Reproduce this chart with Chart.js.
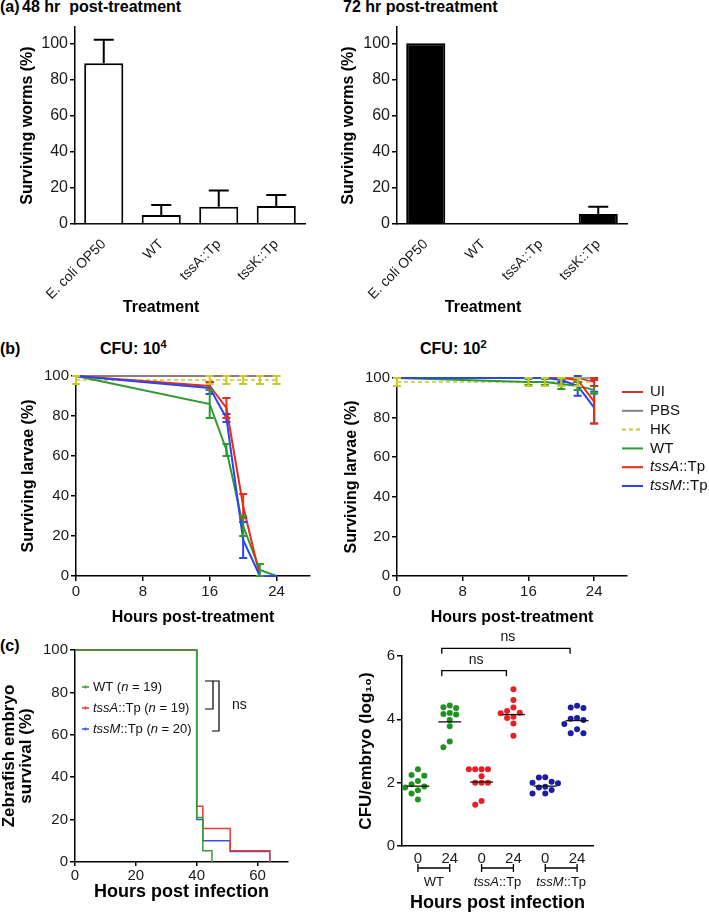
<!DOCTYPE html>
<html>
<head>
<meta charset="utf-8">
<title>T6SS virulence figure</title>
<script src="https://cdn.jsdelivr.net/npm/chart.js@4.4.1/dist/chart.umd.min.js"></script>
<style>
  html, body { margin: 0; padding: 0; background: #fff; }
  body { position: relative; width: 709px; height: 914px; overflow: hidden;
         font-family: "Liberation Sans", Arial, Helvetica, sans-serif; color: #000; }
  canvas { position: absolute; }
  .lbl { position: absolute; font-size: 16px; line-height: 16px; font-weight: bold; white-space: nowrap; }
  .lbl sup { font-size: 11px; line-height: 0; }
</style>
</head>
<body>
<div class="lbl" style="left:0;top:-1px">(a)</div>
<div class="lbl" style="left:22px;top:-1px">48 hr&nbsp; post-treatment</div>
<div class="lbl" style="left:343px;top:-1px">72 hr post-treatment</div>
<div class="lbl" style="left:0;top:341px">(b)</div>
<div class="lbl" style="left:100px;top:341px">CFU: 10<sup>4</sup></div>
<div class="lbl" style="left:420px;top:341px">CFU: 10<sup>2</sup></div>
<div class="lbl" style="left:0;top:638px">(c)</div>

<canvas id="a48" width="345" height="320" style="left:0;top:0"></canvas>
<canvas id="a72" width="379" height="320" style="left:330px;top:0"></canvas>
<canvas id="b4" width="345" height="305" style="left:0;top:330px"></canvas>
<canvas id="b2" width="379" height="305" style="left:330px;top:330px"></canvas>
<canvas id="c1" width="345" height="289" style="left:0;top:625px"></canvas>
<canvas id="c2" width="364" height="314" style="left:345px;top:600px"></canvas>

<script>
// ---- (a) worm killing ----
const wormStrains = ['E. coli OP50', 'WT', 'tssA::Tp', 'tssK::Tp'];
const worms48 = [89, 5, 9.5, 10];
const worms48Err = [13, 5.5, 9, 6];
const worms72 = [100, 0, 0, 5.5];
const worms72Err = [0, 0, 0, 4];
const wormTicks = [0, 20, 40, 60, 80, 100];

// ---- (b) larvae survival ----
const larvaeHours = [0, 16, 18, 20, 22, 24];
const larvaeHourTicks = [0, 8, 16, 24];
const larvaeTicks = [0, 20, 40, 60, 80, 100];
const larvaeSeries = ['UI', 'PBS', 'HK', 'WT', 'tssA::Tp', 'tssM::Tp'];

const cfu4UI = [100, 100, 100, 100, 100, 100];
const cfu4PBS = [100, 100, 100, 100, 100, 100];
const cfu4HK = [98, 98, 98, 98, 98, 98];
const cfu4HKErr = [2, 2, 2, 2, 2, 2];
const cfu4WT = [100, 86, 63, 25, 3, 0];
const cfu4WTErr = [0, 7, 3, 5, 3, 0];
const cfu4TssA = [100, 95, 84, 35, 0, 0];
const cfu4TssAErr = [0, 2, 5, 6, 0, 0];
const cfu4TssM = [100, 94, 79, 18, 0, 0];
const cfu4TssMErr = [0, 3, 2, 9, 0, 0];

const cfu2UI = [100, 100, 100, 100, 100, 98];
const cfu2UIErr = [0, 0, 0, 0, 0, 2];
const cfu2PBS = [100, 100, 100, 100, 100, 100];
const cfu2HK = [98, 98, 98, 98, 98, 98];
const cfu2HKErr = [2, 2, 2, 2, 2, 2];
const cfu2WT = [100, 98, 98, 97, 96, 94];
const cfu2WTErr = [0, 1.5, 1.5, 2.5, 2, 2];
const cfu2TssA = [100, 100, 100, 100, 99, 88];
const cfu2TssAErr = [0, 0, 0, 0, 1, 11];
const cfu2TssM = [100, 100, 100, 99, 96, 85];
const cfu2TssMErr = [0, 0, 0, 1, 5, 8];

// ---- (c) zebrafish survival (Kaplan-Meier steps) ----
const zfStrains = ['WT', 'tssA::Tp', 'tssM::Tp'];
const zfN = [19, 19, 20];
const zfWTHours = [0, 40, 42, 45];
const zfWTSurv = [100, 21, 5.3, 0];
const zfTssAHours = [0, 40, 42, 51, 64];
const zfTssASurv = [100, 26.3, 15.8, 5.3, 0];
const zfTssMHours = [0, 40, 42, 51, 64];
const zfTssMSurv = [100, 20, 10, 5, 0];
const zfHourTicks = [0, 20, 40, 60];
const zfSurvTicks = [0, 20, 40, 60, 80, 100];

// ---- (c) bacterial burden ----
const cfuStrains = ['WT', 'tssA::Tp', 'tssM::Tp'];
const cfuTimeLabels = ['0', '24', '0', '24', '0', '24'];
const cfuWT0 = [2.42, 2.24, 2.22, 2.05, 1.95, 1.88, 1.85, 1.76, 1.66, 1.47];
const cfuWT24 = [4.44, 4.38, 4.36, 4.2, 4.17, 4.15, 3.98, 3.78, 3.3, 3.12];
const cfuTssA0 = [2.42, 2.42, 2.42, 2.42, 2.2, 2.0, 2.0, 2.0, 1.42, 1.3];
const cfuTssA24 = [4.95, 4.61, 4.37, 4.26, 4.21, 4.19, 4.08, 4.04, 3.87, 3.48];
const cfuTssM0 = [2.17, 2.16, 2.03, 2.0, 1.98, 1.87, 1.85, 1.77, 1.66, 1.66];
const cfuTssM24 = [4.43, 4.37, 4.36, 4.04, 4.02, 3.98, 3.85, 3.69, 3.56, 3.56];
const cfuMedians = [1.89, 3.92, 2.02, 4.15, 1.89, 3.96];
const cfuTicks = [0, 2, 4, 6];
const cfuSigPairs = [[2, 4, 'ns'], [2, 6, 'ns']];

// ---- styles ----
const FONT = '"Liberation Sans", Arial, Helvetica, sans-serif';
const larvaeColors = ['#c4342c', '#808080', '#c8c82a', '#2f9a2f', '#ec2a1c', '#2a46ec'];
const larvaeWidths = [1.5, 1.5, 1.5, 2, 2, 2];
const zfColors = ['#3c9c3c', '#ea3a32', '#3a52dc'];
const cfuColors = ['#1e9420', '#ec1c24', '#1c1ca6'];

Chart.defaults.font.family = FONT;
Chart.defaults.color = '#111';
Chart.defaults.animation = false;
Chart.defaults.responsive = false;
Chart.defaults.devicePixelRatio = 1;
Chart.defaults.plugins.legend.display = false;
Chart.defaults.plugins.tooltip.enabled = false;
Chart.defaults.elements.line.tension = 0;

// split "tssA::Tp" into italic gene + plain suffix
function nameParts(name) {
  const i = name.indexOf('::');
  if (i > 0 && name.startsWith('tss')) return [[name.slice(0, i), true], [name.slice(i), false]];
  return [[name, false]];
}

function drawRich(ctx, parts, x, y, size, align, weight) {
  const fonts = parts.map(([, it]) => `${it ? 'italic ' : ''}${weight ? weight + ' ' : ''}${size}px ${FONT}`);
  const widths = parts.map(([t], k) => { ctx.font = fonts[k]; return ctx.measureText(t).width; });
  const total = widths.reduce((a, b) => a + b, 0);
  let cx = align === 'center' ? x - total / 2 : x;
  ctx.textAlign = 'left';
  ctx.textBaseline = 'middle';
  parts.forEach(([t], k) => {
    ctx.font = fonts[k];
    ctx.fillText(t, cx, y);
    cx += widths[k];
  });
}

// error bars drawn from each dataset's `errors` array through its y scale
const errorBars = {
  id: 'errorBars',
  afterDatasetsDraw(chart) {
    const ctx = chart.ctx;
    chart.data.datasets.forEach((ds, i) => {
      if (!ds.errors) return;
      const meta = chart.getDatasetMeta(i);
      const yScale = chart.scales[meta.yAxisID];
      ctx.save();
      ctx.strokeStyle = ds.errorColor || ds.borderColor;
      ctx.lineWidth = ds.errorWidth || 2;
      ctx.setLineDash([]);
      meta.data.forEach((el, j) => {
        const err = ds.errors[j];
        if (!err) return;
        const raw = ds.data[j];
        const v = typeof raw === 'object' ? raw.y : raw;
        const cap = ds.capHalf || 4;
        const top = yScale.getPixelForValue(v + err);
        const bottom = ds.upperOnly ? el.y : yScale.getPixelForValue(v - err);
        ctx.beginPath();
        ctx.moveTo(el.x, top); ctx.lineTo(el.x, bottom);
        ctx.moveTo(el.x - cap, top); ctx.lineTo(el.x + cap, top);
        if (!ds.upperOnly) { ctx.moveTo(el.x - cap, bottom); ctx.lineTo(el.x + cap, bottom); }
        ctx.stroke();
      });
      ctx.restore();
    });
  }
};
Chart.register(errorBars);

function setTicks(values) {
  return s => { s.ticks = values.map(v => ({ value: v })); };
}

function yAxis({ min, max, ticks, width, title, titleSize, titlePad, tickSize, lineHeight }) {
  return {
    min, max, bounds: 'data',
    afterBuildTicks: setTicks(ticks),
    afterFit: s => { s.width = width; },
    grid: { display: true, drawOnChartArea: false, drawTicks: true, tickLength: 5, color: '#000', lineWidth: 1.5 },
    border: { display: true, color: '#000', width: 1.5 },
    ticks: { font: { size: tickSize }, color: '#1a1a1a', padding: 2 },
    title: { display: true, text: title, color: '#000',
             font: { size: titleSize, weight: 'bold', lineHeight: lineHeight || 1.2 },
             padding: { top: titlePad, bottom: 0 } }
  };
}

function textNote(text, dx, dy, size) {
  return {
    id: 'note',
    afterDraw(chart) {
      const { ctx, chartArea } = chart;
      ctx.save();
      ctx.fillStyle = '#000';
      ctx.font = `bold ${size}px ${FONT}`;
      ctx.textAlign = 'center';
      ctx.textBaseline = 'middle';
      ctx.fillText(text, chartArea.left + dx, chartArea.bottom + dy);
      ctx.restore();
    }
  };
}

// ---- (a) ----
function wormChart(id, values, errors, fill, yWidth, padRight, titlePad) {
  return new Chart(document.getElementById(id), {
    type: 'bar',
    data: {
      labels: wormStrains,
      datasets: [{
        data: values, errors, upperOnly: true, capHalf: 10, errorColor: '#000', errorWidth: 2,
        backgroundColor: fill, borderColor: '#000', borderWidth: 2,
        barPercentage: 0.68, categoryPercentage: 1
      }]
    },
    options: {
      layout: { padding: { top: 27, right: padRight, left: 0, bottom: 0 } },
      scales: {
        x: {
          afterFit: s => { s.height = 96; },
          grid: { display: false },
          border: { display: true, color: '#000', width: 1.5 },
          ticks: { font: { size: 14 }, color: '#1a1a1a', minRotation: 45, maxRotation: 45, autoSkip: false, padding: 4 }
        },
        y: yAxis({ min: 0, max: 109, ticks: wormTicks, width: yWidth, title: 'Surviving worms (%)',
                   titleSize: 16, titlePad, tickSize: 16 })
      }
    },
    plugins: [textNote('Treatment', 86, 84, 16)]
  });
}
wormChart('a48', worms48, worms48Err, '#fff', 75, 40, 18.4);
wormChart('a72', worms72, worms72Err, '#000', 67, 82, 9.4);

// ---- (b) ----
// legend listed in series order beside the right-hand panel
const larvaeLegend = {
  id: 'larvaeLegend',
  afterDraw(chart) {
    const { ctx, chartArea } = chart;
    const x0 = chartArea.right - 5;
    larvaeSeries.forEach((name, i) => {
      const y = chartArea.top + 14 + i * 18.8;
      ctx.save();
      ctx.strokeStyle = larvaeColors[i];
      ctx.lineWidth = 2;
      ctx.setLineDash(name === 'HK' ? [4, 3] : []);
      ctx.beginPath(); ctx.moveTo(x0, y); ctx.lineTo(x0 + 21, y); ctx.stroke();
      ctx.fillStyle = '#111';
      drawRich(ctx, nameParts(name), x0 + 28, y, 15, 'left');
      ctx.restore();
    });
  }
};

function larvaeChart(id, series, errs, yWidth, padTop, padRight, titlePad, extra) {
  const datasets = larvaeSeries.map((name, k) => ({
    label: name,
    data: larvaeHours.map((h, j) => ({ x: h, y: series[k][j] })),
    errors: errs[k],
    borderColor: larvaeColors[k],
    borderWidth: larvaeWidths[k],
    borderDash: name === 'HK' ? [4, 3] : [],
    capHalf: 4, errorWidth: 2,
    pointRadius: 0, clip: false, fill: false
  })).reverse();
  return new Chart(document.getElementById(id), {
    type: 'line',
    data: { datasets },
    options: {
      layout: { padding: { top: padTop, right: padRight, left: 0, bottom: 0 } },
      scales: {
        x: {
          type: 'linear', min: 0, max: 28, bounds: 'data',
          afterBuildTicks: setTicks(larvaeHourTicks),
          afterFit: s => { s.height = 59; },
          grid: { display: true, drawOnChartArea: false, tickLength: 5, color: '#000', lineWidth: 1.5 },
          border: { display: true, color: '#000', width: 1.5 },
          ticks: { font: { size: 15 }, color: '#1a1a1a', padding: 2 },
          title: { display: true, text: 'Hours post-treatment', color: '#000',
                   font: { size: 16, weight: 'bold' }, padding: { top: 0, bottom: 7.4 } }
        },
        y: yAxis({ min: 0, max: 100, ticks: larvaeTicks, width: yWidth, title: 'Surviving larvae (%)',
                   titleSize: 16, titlePad, tickSize: 15 })
      }
    },
    plugins: extra ? [extra] : []
  });
}
larvaeChart('b4', [cfu4UI, cfu4PBS, cfu4HK, cfu4WT, cfu4TssA, cfu4TssM],
            [null, null, cfu4HKErr, cfu4WTErr, cfu4TssAErr, cfu4TssMErr], 76, 46, 35, 19.4);
larvaeChart('b2', [cfu2UI, cfu2PBS, cfu2HK, cfu2WT, cfu2TssA, cfu2TssM],
            [cfu2UIErr, null, cfu2HKErr, cfu2WTErr, cfu2TssAErr, cfu2TssMErr], 67, 48, 82, 12.4, larvaeLegend);

// ---- (c) survival ----
const zfHours = [zfWTHours, zfTssAHours, zfTssMHours];
const zfSurv = [zfWTSurv, zfTssASurv, zfTssMSurv];
const zfNotes = {
  id: 'zfNotes',
  afterDraw(chart) {
    const { ctx, chartArea } = chart;
    const L = chartArea.left, T = chartArea.top;
    ctx.save();
    // legend
    zfStrains.forEach((name, i) => {
      const y = T + 37 + i * 21;
      ctx.strokeStyle = zfColors[i];
      ctx.lineWidth = 1.5;
      ctx.beginPath(); ctx.moveTo(L + 7, y); ctx.lineTo(L + 14, y);
      ctx.moveTo(L + 10.5, y - 1.5); ctx.lineTo(L + 10.5, y + 1.5); ctx.stroke();
      ctx.fillStyle = '#111';
      drawRich(ctx, [...nameParts(name), [' (', false], ['n', true], [` = ${zfN[i]})`, false]],
               L + 18, y, 13, 'left');
    });
    // comparison brackets
    ctx.strokeStyle = '#000';
    ctx.lineWidth = 1.2;
    ctx.beginPath();
    ctx.moveTo(L + 130, T + 31); ctx.lineTo(L + 138, T + 31); ctx.lineTo(L + 138, T + 59); ctx.lineTo(L + 130, T + 59);
    ctx.moveTo(L + 137, T + 31); ctx.lineTo(L + 144, T + 31); ctx.lineTo(L + 144, T + 81); ctx.lineTo(L + 137, T + 81);
    ctx.stroke();
    ctx.fillStyle = '#111';
    drawRich(ctx, [['ns', false]], L + 157, T + 55, 14, 'left');
    ctx.restore();
  }
};

new Chart(document.getElementById('c1'), {
  type: 'line',
  data: {
    datasets: zfStrains.map((name, k) => ({
      label: name,
      data: zfHours[k].map((h, j) => ({ x: h, y: zfSurv[k][j] })),
      borderColor: zfColors[k], borderWidth: 1.5,
      stepped: true, pointRadius: 0, clip: false, fill: false
    }))
  },
  options: {
    layout: { padding: { top: 25, right: 57, left: 0, bottom: 0 } },
    scales: {
      x: {
        type: 'linear', min: 0, max: 70, bounds: 'data',
        afterBuildTicks: setTicks(zfHourTicks),
        afterFit: s => { s.height = 52; },
        grid: { display: true, drawOnChartArea: false, tickLength: 4, color: '#000', lineWidth: 1.5 },
        border: { display: true, color: '#000', width: 1.5 },
        ticks: { font: { size: 15 }, color: '#1a1a1a', padding: 1 },
        title: { display: true, text: 'Hours post infection', color: '#000',
                 font: { size: 18, weight: 'bold' }, padding: { top: 0, bottom: 11 } }
      },
      y: yAxis({ min: 0, max: 100, ticks: zfSurvTicks, width: 75, title: ['Zebrafish embryo', 'survival (%)'],
                 titleSize: 17, titlePad: 0, tickSize: 15, lineHeight: 1.05 })
    }
  },
  plugins: [zfNotes]
});

// ---- (c) bacterial burden ----
const cfuGroups = [cfuWT0, cfuWT24, cfuTssA0, cfuTssA24, cfuTssM0, cfuTssM24];

// simple beeswarm: spread dots that would overlap at the same height
function swarm(values, center) {
  const placed = [];
  const order = values.map((v, i) => i).sort((a, b) => values[b] - values[a]);
  order.forEach(i => {
    const v = values[i];
    for (let k = 0; k < 20; k++) {
      const off = (k % 2 ? -1 : 1) * Math.ceil(k / 2) * 0.2;
      if (!placed.some(p => Math.hypot(p.off - off, p.y - v) < 0.2)) {
        placed.push({ off, y: v });
        break;
      }
    }
  });
  return placed.map(p => ({ x: center + p.off, y: p.y }));
}

const cfuDatasets = [];
cfuMedians.forEach((m, g) => {
  cfuDatasets.push({
    data: [{ x: g + 1 - 0.36, y: m }, { x: g + 1 + 0.36, y: m }],
    showLine: true, borderColor: '#111', borderWidth: 1.3, pointRadius: 0
  });
});
cfuGroups.forEach((vals, g) => {
  const c = cfuColors[Math.floor(g / 2)];
  cfuDatasets.push({
    data: swarm(vals, g + 1),
    backgroundColor: c, borderColor: c, pointRadius: 3, pointBorderWidth: 0
  });
});

const cfuNotes = {
  id: 'cfuNotes',
  afterDraw(chart) {
    const { ctx, chartArea, scales: { x } } = chart;
    ctx.save();
    ctx.strokeStyle = '#000';
    ctx.fillStyle = '#111';
    ctx.lineWidth = 1.3;
    cfuStrains.forEach((name, g) => {
      const x1 = x.getPixelForValue(2 * g + 1), x2 = x.getPixelForValue(2 * g + 2);
      const yb = chartArea.bottom + 22;
      ctx.beginPath();
      ctx.moveTo(x1, yb); ctx.lineTo(x2, yb);
      ctx.moveTo(x1, yb - 4); ctx.lineTo(x1, yb + 4);
      ctx.moveTo(x2, yb - 4); ctx.lineTo(x2, yb + 4);
      ctx.stroke();
      drawRich(ctx, nameParts(name), (x1 + x2) / 2, chartArea.bottom + 36, 13, 'center');
    });
    cfuSigPairs.forEach(([a, b, label], k) => {
      const x1 = x.getPixelForValue(a - 0.25), x2 = x.getPixelForValue(b - 0.22);
      const yb = chartArea.top + 14.7 - k * 22.4;
      ctx.beginPath();
      ctx.moveTo(x1, yb + 5.5); ctx.lineTo(x1, yb); ctx.lineTo(x2, yb); ctx.lineTo(x2, yb + 5.5);
      ctx.stroke();
      drawRich(ctx, [[label, false]], (x1 + x2) / 2 + 2, yb - 11, 14, 'center');
    });
    ctx.restore();
  }
};

new Chart(document.getElementById('c2'), {
  type: 'scatter',
  data: { datasets: cfuDatasets },
  options: {
    layout: { padding: { top: 56, right: 116, left: 0, bottom: 0 } },
    scales: {
      x: {
        type: 'linear', min: 0.5, max: 6.5, bounds: 'data',
        afterBuildTicks: setTicks([1, 2, 3, 4, 5, 6]),
        afterFit: s => { s.height = 68; },
        grid: { display: false, drawTicks: false },
        border: { display: true, color: '#000', width: 1.5 },
        ticks: { font: { size: 15 }, color: '#1a1a1a', padding: 4,
                 callback: (v, i) => cfuTimeLabels[i] },
        title: { display: true, text: 'Hours post infection', color: '#000',
                 font: { size: 18, weight: 'bold' }, padding: { top: 0, bottom: 0.2 } }
      },
      y: yAxis({ min: 0, max: 6, ticks: cfuTicks, width: 57, title: 'CFU/embryo (log\u2081\u2080)',
                 titleSize: 17, titlePad: 10.8, tickSize: 15 })
    }
  },
  plugins: [cfuNotes]
});
</script>
</body>
</html>
